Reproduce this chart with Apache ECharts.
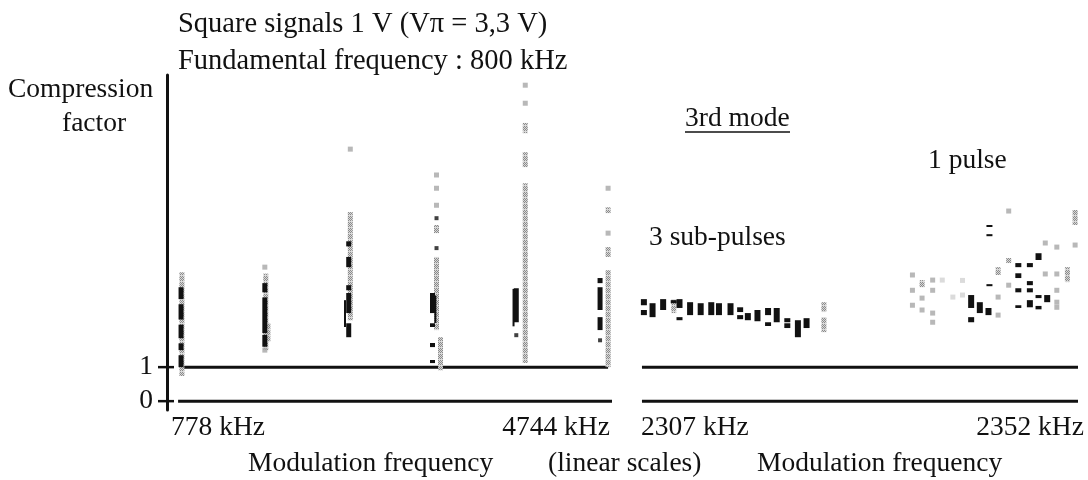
<!DOCTYPE html>
<html>
<head>
<meta charset="utf-8">
<script src="https://cdn.jsdelivr.net/npm/echarts@6/dist/echarts.min.js"></script>
<style>
html,body{margin:0;padding:0;background:#fff;}
#chart{width:1088px;height:480px;}
</style>
</head>
<body>
<div id="chart"></div>
<script>
// ---------- DATA ----------
const yTicks = [0, 1];
const leftTickLabels = [778, 4744];
const rightTickLabels = [2307, 2352];

// horizontal reference lines [x, y]
const leftLineAt1 = [[778, 1], [4820, 1]];
const leftLineAt0 = [[750, 0], [4857, 0]];
const rightLineAt1 = [[2306.9, 1], [2352.2, 1]];
const rightLineAt0 = [[2306.9, 0], [2352.2, 0]];

// left panel (778 .. 4744 kHz): ranges [freq, low, high]
const leftGrayRanges = [
  [786, 0.74, 3.79],
  [1580, 1.5, 3.75], [1600, 1.75, 2.3],
  [2380, 2.38, 5.56],
  [3196, 2.09, 4.24], [3196, 4.94, 5.18], [3234, 0.91, 1.88],
  [4036, 7.88, 8.18], [4036, 6.88, 7.32], [4036, 1.12, 6.41],
  [4820, 1.0, 3.85], [4820, 4.24, 4.53], [4820, 5.53, 5.7]
];
const leftBlackRanges = [
  [778, 3.0, 3.35], [778, 2.4, 2.85], [778, 1.85, 2.25], [778, 1.5, 1.7], [778, 1.0, 1.35],
  [1571, 3.2, 3.47], [1571, 2.0, 3.05], [1571, 1.6, 1.95],
  [2365, 4.55, 4.7], [2365, 3.94, 4.24], [2365, 3.26, 3.41], [2365, 2.59, 3.18], [2365, 1.88, 2.29],
  [3158, 2.59, 3.18], [3158, 2.18, 2.29], [3158, 1.59, 1.71], [3158, 1.12, 1.21],
  [3951, 2.32, 3.32],
  [4744, 3.47, 3.62], [4744, 2.68, 3.35], [4744, 2.09, 2.47]
];
const leftBlackThin = [[2330, 2.18, 2.97], [3185, 2.3, 3.1], [3925, 2.2, 3.3]];
const leftGrayPoints = [
  [1571, 3.94], [1571, 1.5],
  [2380, 7.41],
  [3196, 6.65], [3196, 6.26], [3196, 5.76],
  [4036, 9.29], [4036, 8.76],
  [4820, 6.26], [4820, 4.94]
];
const leftBlackPoints = [
  [3196, 5.38], [3196, 4.5],
  [3951, 1.94],
  [4744, 1.79]
];

// right panel (2307 .. 2352 kHz)
const rightBlackRanges = [
  [2307.1, 2.82, 3.0], [2307.1, 2.53, 2.68],
  [2308.0, 2.47, 2.88],
  [2309.1, 2.68, 3.0],
  [2310.2, 2.88, 2.97],
  [2310.8, 2.74, 3.0], [2310.8, 2.38, 2.47],
  [2311.9, 2.53, 2.91],
  [2313.0, 2.53, 2.88],
  [2314.1, 2.53, 2.91],
  [2314.9, 2.53, 2.88],
  [2316.1, 2.53, 2.88],
  [2317.1, 2.62, 2.76], [2317.1, 2.41, 2.53],
  [2317.9, 2.38, 2.59],
  [2318.9, 2.35, 2.68],
  [2320.0, 2.53, 2.74], [2320.0, 2.21, 2.32],
  [2320.9, 2.32, 2.74],
  [2322.0, 2.32, 2.44], [2322.0, 2.15, 2.29],
  [2323.1, 1.88, 2.38],
  [2324.0, 2.15, 2.44],
  [2343.0, 5.12, 5.18], [2343.0, 4.85, 4.91], [2343.0, 3.38, 3.44],
  [2346.0, 3.94, 4.06], [2346.0, 3.62, 3.76], [2346.0, 3.2, 3.32], [2346.0, 2.74, 2.82],
  [2347.2, 3.94, 4.06], [2347.2, 3.41, 3.53], [2347.2, 3.2, 3.32], [2347.2, 2.76, 2.97],
  [2348.1, 3.03, 3.12], [2348.1, 2.7, 2.8], [2348.1, 4.15, 4.35],
  [2349.0, 2.91, 3.12],
  [2341.1, 2.74, 3.12], [2341.1, 2.32, 2.47],
  [2342.0, 2.59, 2.91],
  [2342.9, 2.53, 2.74]
];
const rightGrayRanges = [
  [2310.2, 2.59, 3.0],
  [2325.8, 2.62, 2.91], [2325.8, 2.03, 2.47],
  [2351.9, 5.18, 5.62], [2351.1, 3.5, 3.94], [2345.0, 4.06, 4.21],
  [2343.9, 3.71, 3.94], [2336.0, 3.35, 3.56]
];
const rightGrayPoints = [
  [2345.0, 5.59], [2351.9, 4.59], [2350.0, 4.53], [2348.8, 4.65], [2350.0, 3.74], [2348.8, 3.74],
  [2350.0, 3.26], [2350.0, 2.91], [2350.0, 2.76], [2345.0, 3.41], [2343.9, 3.06],
  [2343.9, 2.53], [2335.0, 3.71], [2337.1, 3.56], [2335.0, 3.26], [2336.0, 3.03],
  [2337.1, 3.26], [2335.0, 2.82], [2336.0, 2.68], [2337.1, 2.59], [2337.1, 2.32]
];
const rightLightPoints = [
  [2340.2, 3.55], [2340.2, 3.12], [2339.2, 3.06], [2338.1, 3.56]
];

// ---------- STYLE ----------
const FONT = 'Liberation Serif, Times New Roman, serif';
const INK = '#111';
const FS = 27.5;
const GRAY_SOLID = '#a6a6a6';
const LIGHT_SOLID = '#d2d2d2';

function dotPattern() {
  const c = document.createElement('canvas');
  c.width = 6; c.height = 6;
  const g = c.getContext('2d');
  g.fillStyle = '#d8d8d8';
  g.fillRect(0, 0, 6, 6);
  g.fillStyle = '#8a8a8a';
  [[0,0],[2,0],[4,0],[1,1],[3,1],[5,1],[0,2],[2,2],[4,2],[1,3],[3,3],[5,3],[0,4],[2,4],[4,4]].forEach(p => g.fillRect(p[0], p[1], 1, 1));
  return { image: c, repeat: 'repeat' };
}
const GRAY = dotPattern();

function rangeRenderer(width, fill) {
  return function (params, api) {
    const lo = api.coord([api.value(0), api.value(1)]);
    const hi = api.coord([api.value(0), api.value(2)]);
    return {
      type: 'rect',
      shape: { x: lo[0] - width / 2, y: hi[1], width: width, height: Math.max(2, lo[1] - hi[1]) },
      style: { fill: fill }
    };
  };
}
function rangeSeries(data, xi, width, fill) {
  return { type: 'custom', xAxisIndex: xi, yAxisIndex: xi === 0 ? 0 : 1, data: data,
    renderItem: rangeRenderer(width, fill), clip: false, silent: true, z: fill === INK ? 4 : 3 };
}
function pointSeries(data, xi, color, size) {
  return { type: 'scatter', xAxisIndex: xi, yAxisIndex: xi === 0 ? 0 : 1, data: data,
    symbol: 'rect', symbolSize: size, itemStyle: { color: color }, silent: true, z: 5 };
}
function lineSeries(data, xi) {
  return { type: 'line', xAxisIndex: xi, yAxisIndex: xi === 0 ? 0 : 1, data: data,
    symbol: 'none', lineStyle: { color: INK, width: 3 }, silent: true, z: 2 };
}
// cross-shaped ticks on the y axis at the tick values (x taken from the grid's left edge)
const tickSeries = {
  type: 'custom', xAxisIndex: 0, yAxisIndex: 0,
  data: yTicks.map(v => [leftTickLabels[0], v]), clip: false, silent: true, z: 6,
  renderItem: function (params, api) {
    const x = params.coordSys.x;
    const y = api.coord([api.value(0), api.value(1)])[1];
    return { type: 'line', shape: { x1: x - 9, y1: y, x2: x + 7, y2: y },
      style: { stroke: INK, lineWidth: 2.5 } };
  }
};

const YMIN = -0.26, YMAX = 9.59;
const labelFont = { fontFamily: FONT, fontSize: FS, color: INK };

function xLabels(values, pads) {
  const rich = {};
  pads.forEach((p, i) => { rich['p' + i] = Object.assign({ padding: p }, labelFont); });
  return {
    customValues: values,
    margin: 4,
    formatter: function (v) {
      const idx = values.indexOf(v);
      return '{p' + idx + '|' + v + ' kHz}';
    },
    rich: rich
  };
}
function txt(text, left, top) {
  return { type: 'text', left: left, top: top, style: { text: text, font: FS + 'px ' + FONT, fill: INK } };
}

const chart = echarts.init(document.getElementById('chart'), null, { renderer: 'canvas' });
chart.setOption({
  backgroundColor: '#fff',
  animation: false,
  grid: [
    { left: 167, top: 75, width: 445, height: 335 },
    { left: 641, top: 75, width: 437, height: 335 }
  ],
  xAxis: [
    { gridIndex: 0, type: 'value', min: 645, max: 4857,
      axisLine: { show: false }, axisTick: { show: false }, splitLine: { show: false },
      axisLabel: xLabels(leftTickLabels, [[0, 0, 0, 74], [0, 88, 0, 0]]) },
    { gridIndex: 1, type: 'value', min: 2306.8, max: 2352.2,
      axisLine: { show: false }, axisTick: { show: false }, splitLine: { show: false },
      axisLabel: xLabels(rightTickLabels, [[0, 0, 0, 104], [0, 92, 0, 0]]) }
  ],
  yAxis: [
    { gridIndex: 0, type: 'value', min: YMIN, max: YMAX, position: 'left',
      axisLine: { show: true, lineStyle: { color: INK, width: 3 } },
      axisTick: { show: false },
      axisLabel: Object.assign({ customValues: yTicks, margin: 14 }, labelFont),
      splitLine: { show: false } },
    { gridIndex: 1, type: 'value', min: YMIN, max: YMAX, show: false }
  ],
  title: {
    text: 'Square signals 1 V (V\u03c0 = 3,3 V)\nFundamental frequency : 800 kHz',
    left: 173, top: 1,
    textStyle: { fontFamily: FONT, fontSize: 28.5, fontWeight: 'normal', color: INK, lineHeight: 37 }
  },
  graphic: [
    txt('Compression', 8, 76),
    txt('factor', 62, 110),
    txt('3rd mode', 685, 105),
    { type: 'line', shape: { x1: 685, y1: 132, x2: 790, y2: 132 }, style: { stroke: INK, lineWidth: 1.5 } },
    txt('1 pulse', 928, 147),
    txt('3 sub-pulses', 649, 224),
    txt('Modulation frequency', 248, 450),
    txt('(linear scales)', 548, 450),
    txt('Modulation frequency', 757, 450)
  ],
  series: [
    lineSeries(leftLineAt1, 0), lineSeries(leftLineAt0, 0),
    lineSeries(rightLineAt1, 1), lineSeries(rightLineAt0, 1),
    tickSeries,
    rangeSeries(leftGrayRanges, 0, 5, GRAY),
    rangeSeries(leftBlackRanges, 0, 5, INK),
    rangeSeries(leftBlackThin, 0, 2, INK),
    pointSeries(leftGrayPoints, 0, GRAY_SOLID, 5),
    pointSeries(leftBlackPoints, 0, INK, 4),
    rangeSeries(rightGrayRanges, 1, 5, GRAY),
    rangeSeries(rightBlackRanges, 1, 6, INK),
    pointSeries(rightGrayPoints, 1, GRAY_SOLID, 5),
    pointSeries(rightLightPoints, 1, LIGHT_SOLID, 5)
  ]
});
</script>
</body>
</html>
